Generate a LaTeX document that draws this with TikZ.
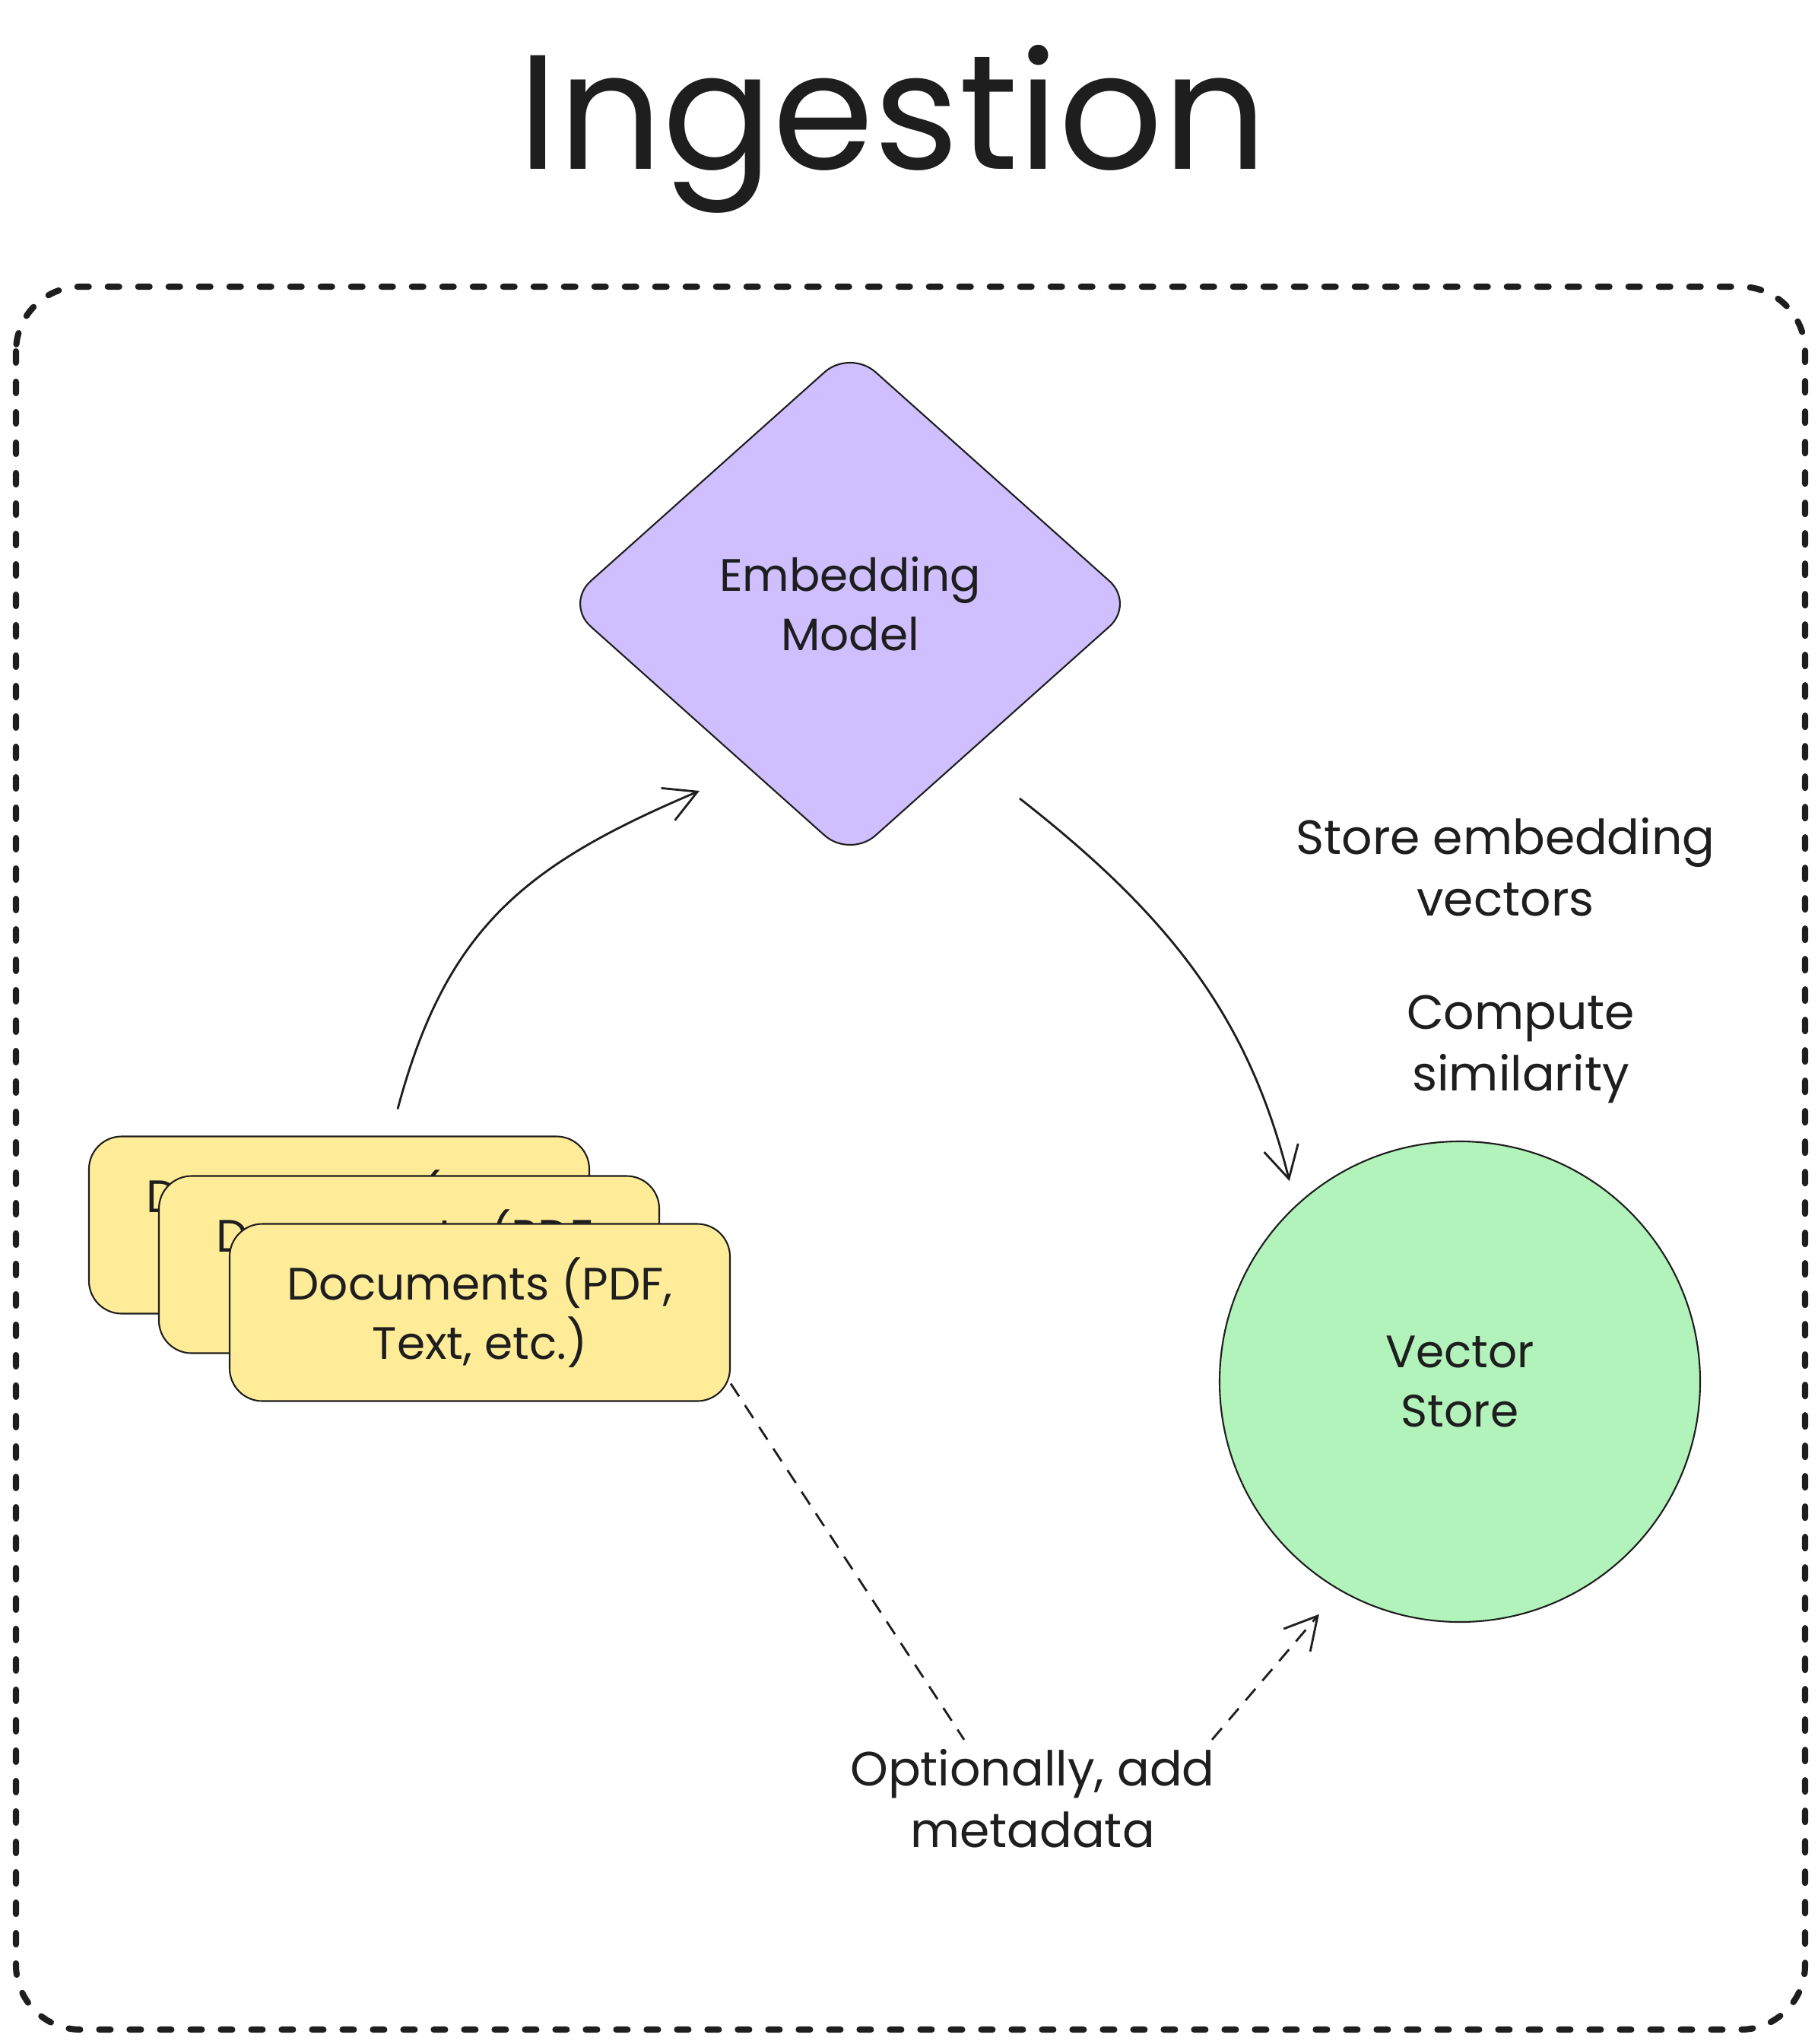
\documentclass[tikz,border=0pt]{standalone}
\usepackage{fontspec}
\setmainfont{Poppins}
\usepackage{xcolor}
\usepackage{tikz}
\usetikzlibrary{shapes.geometric, arrows.meta}
\definecolor{ink}{HTML}{1E1E1E}
\definecolor{violetfill}{HTML}{D0BFFF}
\definecolor{greenfill}{HTML}{B2F2BB}
\definecolor{yellowfill}{HTML}{FFEC99}
\tikzset{
    base/.style={draw=ink, line width=0.6pt, align=center, text=ink, font=\fontsize{17}{22}\selectfont},
    doc/.style={base, rectangle, rounded corners=0.43cm, fill=yellowfill, minimum width=6.58cm, minimum height=2.33cm},
    model/.style={base, diamond, rounded corners=0.45cm, fill=violetfill, minimum width=7.5cm, minimum height=6.7cm, inner sep=0pt},
    storenode/.style={base, circle, fill=greenfill, minimum size=6.32cm},
    remark/.style={align=center, text=ink, font=\fontsize{18}{23}\selectfont},
    arrow/.style={line width=0.8pt, draw=ink, -{Straight Barb[length=0.42cm, width=0.46cm]}},
    metaline/.style={line width=0.8pt, draw=ink, dash pattern=on 0.2cm off 0.14cm}
}

\begin{document}
\begin{tikzpicture}
        \fill[white] (0,0) rectangle (23.91,-26.88);
        \useasboundingbox (0,0) rectangle (23.91,-26.88);

        % Frame
        \draw[ink, line width=2.3pt, line cap=round, dash pattern=on 0.15cm off 0.25cm, rounded corners=0.85cm] (0.21,-3.77) rectangle (23.74,-26.69);

        % Nodes
        \node (title) [anchor=base, text=ink, font=\fontsize{61}{66}\selectfont] at (11.74,-2.23) {Ingestion};
        \node (embed) [model] at (11.18,-7.94) {Embedding\\Model};

        \node (docs1) [doc] at (4.46,-16.11) {Documents (PDF,\\Text, etc.)};
        \node (docs2) [doc] at ([shift={(0.92,-0.52)}]docs1) {Documents (PDF,\\Text, etc.)};
        \node (docs3) [doc] at ([shift={(0.93,-0.63)}]docs2) {Documents (PDF,\\Text, etc.)};

        \node (vstore) [storenode] at (19.20,-18.17) {Vector\\Store};

        \node (storetext) [remark] at (19.80,-11.40) {Store embedding\\vectors};
        \node (simtext) [remark] at (20.00,-13.80) {Compute\\similarity};
        \node (meta) [remark] at (13.58,-23.65) {Optionally, add\\metadata};

        % Arrows
        \draw [arrow] ([xshift=0.77cm, yshift=0.35cm]docs1.north) to[out=75, in=203, looseness=1.1] ([shift={(-0.1,-0.78)}]embed.south west);
        \draw [arrow, shorten >=0.33cm] ([shift={(0.35,-0.88)}]embed.south east) to[out=-38, in=104] (vstore.133);

        % Optional metadata
        \draw [metaline] ([yshift=0.24cm]docs3.south east) -- ([xshift=-0.9cm]meta.north);
        \draw [metaline, -{Straight Barb[length=0.42cm, width=0.46cm]}, shorten >=0.41cm] ([xshift=2.36cm]meta.north) -- (vstore.-120);
    \end{tikzpicture}
\end{document}
